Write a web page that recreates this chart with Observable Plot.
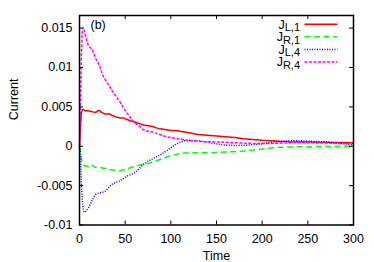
<!DOCTYPE html>
<html><head><meta charset="utf-8">
<script src="https://cdn.jsdelivr.net/npm/d3@7"></script>
<script src="https://cdn.jsdelivr.net/npm/@observablehq/plot@0.6"></script>
<style>body{margin:0;background:#fff} svg{display:block}</style>
</head><body><div id="chart"></div>
<script>
const time = [0,1,2,3,4,5,6,8,10,12,14,16,18,20,22,24,26,28,30,33,36,40,44,48,52,56,60,65,70,75,80,85,90,95,100,105,110,115,120,130,140,150,160,170,180,190,200,210,220,230,240,250,260,270,280,290,300];
const jL1 = [0,0.0025,0.0042,0.0046,0.0047,0.0046,0.0045,0.00455,0.0045,0.0044,0.0044,0.0043,0.0043,0.0045,0.00455,0.0043,0.0042,0.0041,0.0041,0.0041,0.0039,0.0037,0.0036,0.0036,0.0034,0.0032,0.0031,0.0029,0.0027,0.0026,0.0025,0.0023,0.0022,0.0021,0.0020,0.0020,0.0019,0.0018,0.0017,0.0015,0.0014,0.0013,0.0012,0.0011,0.00095,0.00085,0.00076,0.0007,0.00063,0.00058,0.00055,0.00053,0.0005,0.0005,0.00048,0.00047,0.00045];
const jR1 = [0,-0.0005,-0.0015,-0.0021,-0.0023,-0.0024,-0.0025,-0.0025,-0.0026,-0.0024,-0.0024,-0.0026,-0.0027,-0.0027,-0.0027,-0.0027,-0.0028,-0.0028,-0.0029,-0.0030,-0.0030,-0.0031,-0.0031,-0.0030,-0.0029,-0.0027,-0.0026,-0.0024,-0.0023,-0.0022,-0.0020,-0.0018,-0.0016,-0.0014,-0.0012,-0.0011,-0.0009,-0.00085,-0.00083,-0.00082,-0.0008,-0.00078,-0.00073,-0.0007,-0.0006,-0.00048,-0.00035,-0.00022,-0.00013,-0.0001,-0.00008,-0.00006,-0.00004,-0.00003,-0.00002,0,0.00002];
const jL4 = [0,-0.001,-0.0045,-0.0068,-0.0079,-0.0083,-0.0084,-0.0081,-0.0078,-0.0073,-0.0068,-0.0064,-0.0061,-0.0060,-0.0059,-0.0059,-0.0058,-0.0057,-0.0055,-0.0051,-0.0048,-0.0046,-0.0044,-0.0041,-0.0038,-0.0036,-0.0034,-0.0029,-0.0023,-0.0019,-0.0016,-0.0013,-0.0010,-0.0006,-0.0002,0.0002,0.0005,0.0007,0.00075,0.0007,0.0005,0.0003,0.00015,0.0001,0.00012,0.0002,0.0003,0.0005,0.0006,0.0007,0.0007,0.00065,0.0006,0.00055,0.0004,0.0003,0.0002];
const jR4 = [0,0.004,0.011,0.0145,0.0151,0.0148,0.0143,0.0134,0.0127,0.0125,0.0123,0.0117,0.0111,0.0107,0.0102,0.0095,0.0089,0.0085,0.0081,0.0076,0.0070,0.0063,0.0057,0.0049,0.0042,0.0036,0.0030,0.0026,0.0021,0.0019,0.0018,0.0016,0.0014,0.0012,0.0011,0.0010,0.0009,0.0008,0.0007,0.00062,0.00058,0.00055,0.0005,0.00045,0.0004,0.00036,0.00034,0.00036,0.0004,0.00045,0.00047,0.00045,0.00042,0.0004,0.00037,0.00035,0.00033];

const legendMain = "J";
const legendSubs = ["L,1","R,1","L,4","R,4"];
const xTicks = [0,50,100,150,200,250,300];
const yTicks = [-0.01,-0.005,0,0.005,0.01,0.015];
const yTickLabels = ["-0.01","-0.005","0","0.005","0.01","0.015"];

const seriesValues = [jL1, jR1, jL4, jR4];
const seriesStyles = [
  {color:"#ff0000", dash:null},
  {color:"#00ff00", dash:"6,3.5"},
  {color:"#0000ff", dash:"1,1.5"},
  {color:"#ff00ff", dash:"3,1.5"}
];

const W = 374, H = 262, mL = 79, mR = 21, mT = 15, mB = 37.5;
const innerW = W - mL - mR, innerH = H - mT - mB, tk = 4;

const lineMarks = seriesValues.map((vals, k) =>
  Plot.line(time.map((t, i) => ({t, v: vals[i]})), {
    x: "t", y: "v", stroke: seriesStyles[k].color,
    strokeDasharray: seriesStyles[k].dash, strokeWidth: 1.5,
    strokeLinejoin: "miter", strokeLinecap: "butt"
  })
);

const plot = Plot.plot({
  width: W, height: H,
  marginLeft: mL, marginRight: mR, marginTop: mT, marginBottom: mB,
  style: {fontFamily: "'Liberation Sans', Arial, sans-serif", fontSize: "12.5px", background: "white", color: "black"},
  x: {domain: [0, 300], ticks: xTicks, tickSize: 0, tickPadding: 9, label: null},
  y: {domain: [-0.01, 0.0166], ticks: yTicks, tickFormat: d => yTickLabels[yTicks.indexOf(d)], tickSize: 0, tickPadding: 7, label: null},
  marks: [
    ...lineMarks,
    Plot.tickX(xTicks, {x: d => d, insetTop: innerH - tk, stroke: "black", strokeWidth: 1}),
    Plot.tickX(xTicks, {x: d => d, insetBottom: innerH - tk, stroke: "black", strokeWidth: 1}),
    Plot.tickY(yTicks, {y: d => d, insetRight: innerW - tk, stroke: "black", strokeWidth: 1}),
    Plot.tickY(yTicks, {y: d => d, insetLeft: innerW - tk, stroke: "black", strokeWidth: 1}),
    Plot.frame({stroke: "black", strokeWidth: 1.5}),
    Plot.text(["Time"], {frameAnchor: "bottom", dy: 31, lineAnchor: "middle", fill: "black"}),
    Plot.text(["Current"], {frameAnchor: "left", dx: -66, rotate: -90, lineAnchor: "middle", fill: "black"}),
    Plot.text(["(b)"], {frameAnchor: "top-left", dx: 11, dy: 9, textAnchor: "start", lineAnchor: "middle", fill: "black"})
  ]
});

// legend (top-right inside frame)
const svg = d3.select(plot);
const lg = svg.append("g").attr("class", "legend");
const legX1 = 304.5, legX2 = 337.5, legTextX = 300, legY0 = 24.3, legRow = 12.55;
legendSubs.forEach((sub, k) => {
  const y = legY0 + k * legRow;
  lg.append("line").attr("x1", legX1).attr("x2", legX2).attr("y1", y).attr("y2", y)
    .attr("stroke", seriesStyles[k].color).attr("stroke-width", 1.5)
    .attr("stroke-dasharray", seriesStyles[k].dash);
  const t = lg.append("text").attr("x", legTextX).attr("y", y + 4.5)
    .attr("text-anchor", "end").attr("fill", "black")
    .style("font-family", "'Liberation Sans', Arial, sans-serif").style("font-size", "12.5px");
  t.append("tspan").text(legendMain);
  t.append("tspan").attr("dy", 2.5).style("font-size", "11px").text(sub);
});

document.getElementById("chart").appendChild(plot);
</script>
</body></html>
